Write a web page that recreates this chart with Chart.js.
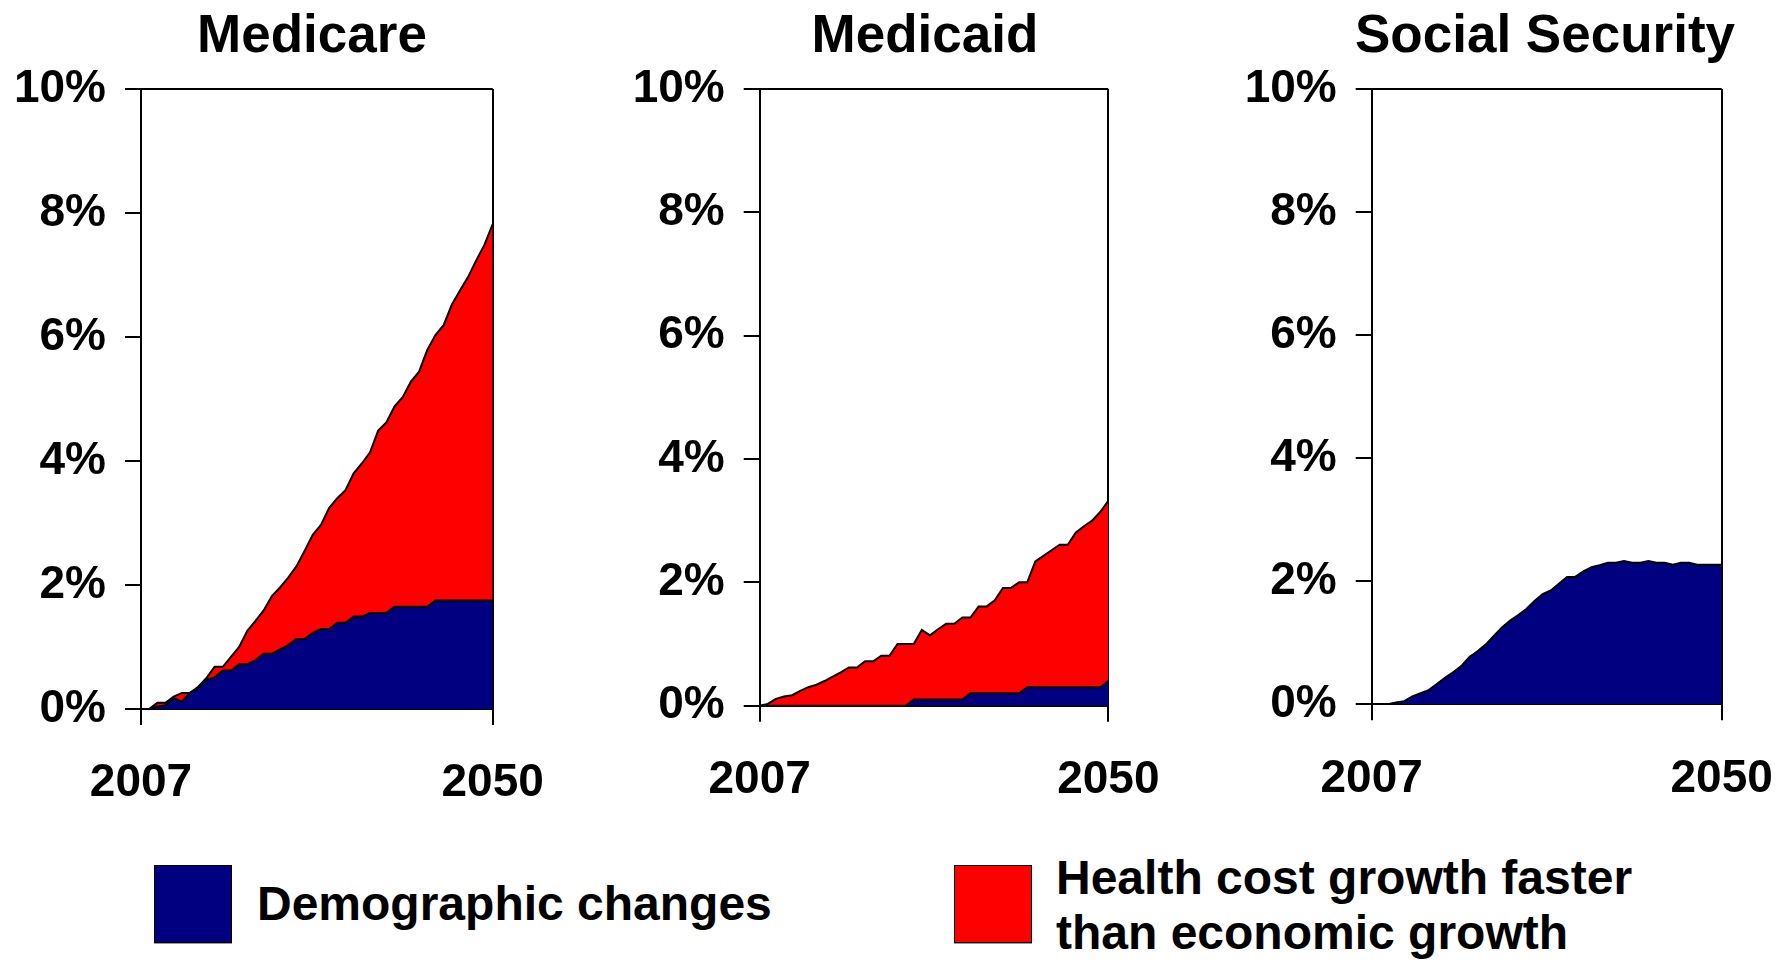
<!DOCTYPE html>
<html>
<head>
<meta charset="utf-8">
<script src="https://cdn.jsdelivr.net/npm/chart.js@4.4.1/dist/chart.umd.min.js"></script>
<style>
  html, body { margin: 0; padding: 0; background: #fff; }
  body { position: relative; width: 1791px; height: 960px; overflow: hidden; font-family: "Liberation Sans", Arial, sans-serif; }
  canvas { position: absolute; top: 0; }
  .box { position: absolute; top: 865px; width: 76px; height: 76px; border: 1px solid #000; box-shadow: 0 1px 0 #999; }
  .label { position: absolute; font-weight: bold; font-size: 48px; line-height: 48.4px; color: #000; white-space: nowrap; }
</style>
</head>
<body>
<canvas id="medicare" width="625" height="830" style="left:0px"></canvas>
<canvas id="medicaid" width="620" height="830" style="left:620px"></canvas>
<canvas id="social" width="650" height="830" style="left:1232px"></canvas>

<div class="box" style="left:154px; background:#000080"></div>
<div class="label" style="left:257px; top:880px">Demographic changes</div>
<div class="box" style="left:954px; background:#ff0000"></div>
<div class="label" style="left:1056px; top:850px; line-height:55.3px">Health cost growth faster<br>than economic growth</div>

<script>
const years = [2007, 2008, 2009, 2010, 2011, 2012, 2013, 2014, 2015, 2016, 2017,
  2018, 2019, 2020, 2021, 2022, 2023, 2024, 2025, 2026, 2027, 2028, 2029, 2030,
  2031, 2032, 2033, 2034, 2035, 2036, 2037, 2038, 2039, 2040, 2041, 2042, 2043,
  2044, 2045, 2046, 2047, 2048, 2049, 2050];
const xTickYears = [2007, 2050];
const yTicks = [0, 2, 4, 6, 8, 10];

// percent of GDP, increase over 2007
const medicareDemographic = [0, 0, 0.04, 0.06, 0.18, 0.12, 0.26, 0.33, 0.47, 0.51, 0.62,
  0.62, 0.72, 0.72, 0.79, 0.89, 0.89, 0.96, 1.03, 1.13, 1.13, 1.23, 1.29, 1.29,
  1.39, 1.39, 1.49, 1.49, 1.55, 1.55, 1.55, 1.65, 1.65, 1.65, 1.65, 1.65, 1.75,
  1.75, 1.75, 1.75, 1.75, 1.75, 1.75, 1.75];
const medicareHealthCost = [0, 0, 0.06, 0.04, 0.02, 0.14, 0, 0.03, 0.03, 0.17, 0.06,
  0.22, 0.28, 0.54, 0.63, 0.70, 0.93, 1.00, 1.09, 1.17, 1.42, 1.58, 1.68, 1.95,
  2.01, 2.14, 2.31, 2.47, 2.59, 2.94, 3.07, 3.23, 3.38, 3.63, 3.79, 4.14, 4.28,
  4.44, 4.77, 5.00, 5.22, 5.49, 5.74, 6.07];

const medicaidDemographic = [0, 0, 0, 0, 0, 0, 0, 0, 0, 0, 0,
  0, 0, 0, 0, 0, 0, 0, 0, 0.1, 0.1, 0.1, 0.1, 0.1,
  0.1, 0.1, 0.2, 0.2, 0.2, 0.2, 0.2, 0.2, 0.2, 0.3, 0.3, 0.3, 0.3,
  0.3, 0.3, 0.3, 0.3, 0.3, 0.3, 0.4];
const medicaidHealthCost = [0, 0.03, 0.11, 0.15, 0.17, 0.24, 0.30, 0.34, 0.40, 0.47, 0.54,
  0.62, 0.62, 0.72, 0.72, 0.81, 0.81, 1.00, 1.00, 0.90, 1.13, 1.04, 1.14, 1.23,
  1.23, 1.33, 1.23, 1.41, 1.41, 1.51, 1.71, 1.71, 1.80, 1.70, 2.04, 2.13, 2.22,
  2.31, 2.31, 2.51, 2.61, 2.70, 2.84, 2.92];

const socialSecurityDemographic = [0, 0, 0, 0.03, 0.05, 0.13, 0.18, 0.23, 0.33, 0.43, 0.52,
  0.62, 0.77, 0.86, 0.97, 1.11, 1.25, 1.36, 1.45, 1.55, 1.68, 1.79, 1.85, 1.96,
  2.07, 2.07, 2.16, 2.23, 2.26, 2.30, 2.30, 2.33, 2.30, 2.30, 2.33, 2.30, 2.30,
  2.27, 2.30, 2.30, 2.27, 2.27, 2.27, 2.27];

const FONT = "'Liberation Sans', Arial, sans-serif";
Chart.defaults.font.family = FONT;
Chart.defaults.color = "#000";

// panel heading, drawn a bit off the plot centre like the original slide
const panelTitle = {
  id: "panelTitle",
  afterDraw(chart, args, opts) {
    const ctx = chart.ctx;
    ctx.save();
    ctx.font = "bold 53px " + FONT;
    ctx.fillStyle = "#000";
    ctx.textAlign = "center";
    ctx.textBaseline = "alphabetic";
    ctx.fillText(opts.text, opts.x, 52);
    ctx.restore();
  },
};

const toPoints = (values) => values.map((v, i) => ({ x: years[i], y: v }));

const createPanel = (id, title, series, box) => {
  const datasets = [
    {
      label: "Demographic changes",
      data: toPoints(series.demographic),
      backgroundColor: "#000080",
      borderColor: "#000",
      borderWidth: 2,
      pointRadius: 0,
      tension: 0,
      fill: "origin",
    },
  ];
  if (series.healthCost) {
    datasets.push({
      label: "Health cost growth faster than economic growth",
      data: toPoints(series.healthCost),
      backgroundColor: "#ff0000",
      borderColor: "#000",
      borderWidth: 2,
      pointRadius: 0,
      tension: 0,
      fill: "-1",
    });
  }

  new Chart(document.getElementById(id).getContext("2d"), {
    type: "line",
    data: { datasets },
    plugins: [panelTitle],
    options: {
      responsive: false,
      animation: false,
      layout: { padding: { left: 0, top: 89, right: box.right, bottom: 0 } },
      plugins: {
        legend: { display: false },
        tooltip: { enabled: false },
        title: { display: false },
        panelTitle: { text: title, x: box.titleX },
      },
      scales: {
        x: {
          type: "linear",
          min: years[0],
          max: years[years.length - 1],
          afterBuildTicks: (axis) => { axis.ticks = xTickYears.map((v) => ({ value: v })); },
          afterFit: (axis) => { axis.height = box.xHeight; },
          border: { display: true, color: "#000", width: 2 },
          grid: {
            drawOnChartArea: true,
            color: (ctx) => (ctx.tick && ctx.tick.value === xTickYears[1] ? "#000" : "transparent"),
            tickColor: "#000",
            tickLength: 16,
            lineWidth: 2,
          },
          ticks: {
            autoSkip: false,
            maxRotation: 0,
            padding: 31,
            font: { size: 46, weight: "bold" },
            callback: (v) => String(v),
          },
        },
        y: {
          stacked: true,
          min: yTicks[0],
          max: yTicks[yTicks.length - 1],
          afterBuildTicks: (axis) => { axis.ticks = yTicks.map((v) => ({ value: v })); },
          afterFit: (axis) => { axis.width = box.yWidth; },
          border: { display: true, color: "#000", width: 2 },
          grid: {
            drawOnChartArea: true,
            color: (ctx) => (ctx.tick && ctx.tick.value === yTicks[yTicks.length - 1] ? "#000" : "transparent"),
            tickColor: "#000",
            tickLength: 16,
            lineWidth: 2,
          },
          ticks: {
            padding: 19,
            font: { size: 46, weight: "bold" },
            callback: (v) => v + "%",
          },
        },
      },
    },
  });
};

createPanel("medicare", "Medicare",
  { demographic: medicareDemographic, healthCost: medicareHealthCost },
  { yWidth: 141, right: 132.3, xHeight: 121, titleX: 312 });
createPanel("medicaid", "Medicaid",
  { demographic: medicaidDemographic, healthCost: medicaidHealthCost },
  { yWidth: 139.7, right: 131.7, xHeight: 124.3, titleX: 305 });
createPanel("social", "Social Security",
  { demographic: socialSecurityDemographic },
  { yWidth: 139.7, right: 160.3, xHeight: 125.7, titleX: 313 });
</script>
</body>
</html>
